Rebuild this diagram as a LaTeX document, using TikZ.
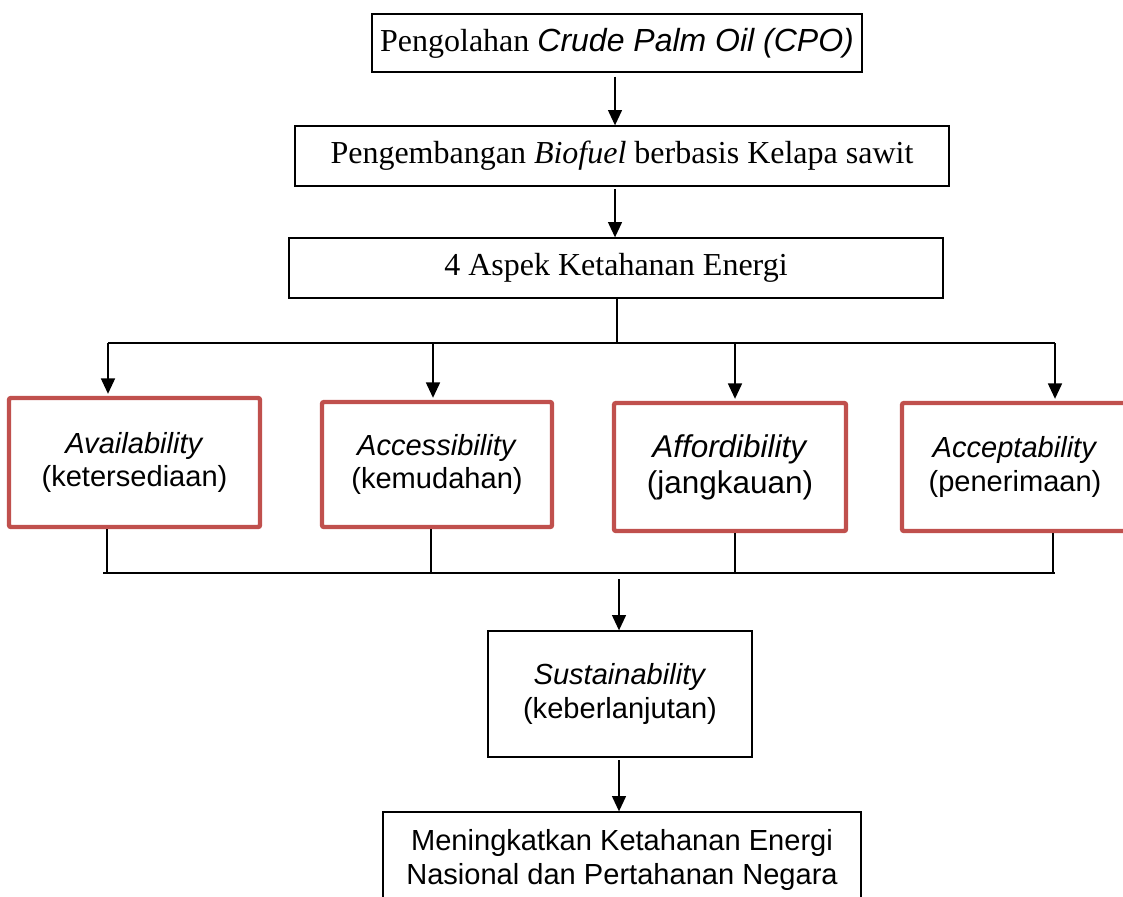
\documentclass[tikz,border=0pt]{standalone}
\usepackage{fontspec}
\setmainfont{Liberation Serif}
\setsansfont{Liberation Sans}
\usetikzlibrary{arrows.meta}
\definecolor{boxred}{RGB}{192,80,77}
\tikzset{
  box/.style={draw, line width=1pt, inner sep=0pt, align=center},
  serifbox/.style={box, font=\rmfamily\fontsize{24}{28}\selectfont},
  sansbox/.style={box, font=\sffamily\fontsize{21.8}{25.5}\selectfont},
  redbox/.style={draw=boxred, line width=3.3pt, rounded corners=1.5pt, inner sep=0pt, align=center, font=\sffamily\fontsize{21.8}{25}\selectfont},
  arr/.style={-{Triangle[width=10.5pt,length=11.5pt]}, line width=1.1pt},
  link/.style={line width=1.1pt},
}
\begin{document}
\begin{tikzpicture}[x=0.75pt,y=-0.75pt]
    \useasboundingbox (0,0) rectangle (1123,896);
    % top chain
    \node[serifbox, minimum width=367.5pt, minimum height=43.5pt] (cpo) at (617,43) {Pengolahan {\sffamily\itshape Crude Palm Oil (CPO)}};
    \node[serifbox, minimum width=490.5pt, minimum height=45pt] (bio) at (622,156) {Pengembangan \textit{Biofuel} berbasis Kelapa sawit};
    \node[serifbox, minimum width=490.5pt, minimum height=45pt] (aspek) at (616,268) {4 Aspek Ketahanan Energi};
    \draw[arr, shorten <=3pt] ([xshift=-1.5pt]cpo.south) -- ([xshift=-1.5pt]cpo.south |- bio.north);
    \draw[arr, shorten <=2pt] ([xshift=-5.25pt]bio.south) -- ([xshift=-5.25pt]bio.south |- aspek.north);
    % the four aspects
    \node[redbox, minimum width=188.25pt, minimum height=96.75pt] (avail) at (134.5,462.5) {\textit{Availability}\\(ketersediaan)};
    \node[redbox, minimum width=172.5pt, minimum height=93.75pt] (access) at (437,464.5) {\textit{Accessibility}\\(kemudahan)};
    \node[redbox, minimum width=174pt, minimum height=96pt, font=\sffamily\fontsize{23.6}{27}\selectfont] (afford) at (730,467) {\textit{Affordibility}\\(jangkauan)};
    \node[redbox, minimum width=169.5pt, minimum height=96pt] (accept) at (1015,467) {\textit{Acceptability}\\(penerimaan)};
    \coordinate (busT) at (617,343);
    \coordinate (tA) at (108,343);
    \coordinate (tB) at (433,343);
    \coordinate (tC) at (735,343);
    \coordinate (tD) at (1055,343);
    \draw[link] ([xshift=0.75pt]aspek.south) -- (busT);
    \draw[link] (tA) -- (tD);
    \foreach \t/\n in {tA/avail, tB/access, tC/afford, tD/accept}
    \draw[arr, shorten >=1.5pt] (\t) -- (\t |- \n.north);
    % merge
    \coordinate (bL) at (103,573);
    \coordinate (bR) at (1055,573);
    \coordinate (bA) at (107,573);
    \coordinate (bB) at (431,573);
    \coordinate (bC) at (735,573);
    \coordinate (bD) at (1053,573);
    \draw[link] (bL) -- (bR);
    \foreach \b/\n in {bA/avail, bB/access, bC/afford, bD/accept}
    \draw[link] (\b |- \n.south) -- (\b);
    \node[sansbox, minimum width=198pt, minimum height=94.5pt] (sust) at (620,694) {\textit{Sustainability}\\(keberlanjutan)};
    \node[sansbox, minimum width=358.5pt, minimum height=72pt] (nasional) at (622,860) {Meningkatkan Ketahanan Energi\\Nasional dan Pertahanan Negara};
    \coordinate (bM) at (619,579);
    \draw[arr] (bM) -- (bM |- sust.north);
    \draw[arr, shorten <=2pt] ([xshift=-0.75pt]sust.south) -- ([xshift=-0.75pt]sust.south |- nasional.north);
\end{tikzpicture}
\end{document}
